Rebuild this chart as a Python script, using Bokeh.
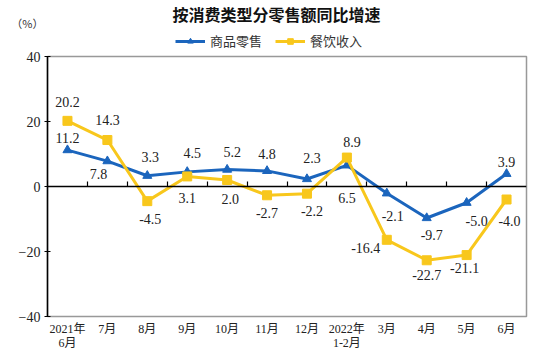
from bokeh.plotting import figure
from bokeh.layouts import column
from bokeh.models import (ColumnDataSource, Range1d, FixedTicker, LinearAxis,
                          Label, Legend, LegendItem)
from bokeh.core.properties import value
from bokeh.embed import file_html
from bokeh.resources import INLINE

# ---- data ----
categories = ["2021年\n6月", "7月", "8月", "9月", "10月", "11月", "12月",
              "2022年\n1-2月", "3月", "4月", "5月", "6月"]
goods = [11.2, 7.8, 3.3, 4.5, 5.2, 4.8, 2.3, 6.5, -2.1, -9.7, -5.0, 3.9]
catering = [20.2, 14.3, -4.5, 3.1, 2.0, -2.7, -2.2, 8.9, -16.4, -22.7, -21.1, -4.0]
y_ticks = [-40, -20, 0, 20, 40]
series_names = ["商品零售", "餐饮收入"]
chart_title = "按消费类型分零售额同比增速"
unit_text = "（%）"

# ---- label placement (pixels) ----
goods_dx = [0, -9, 3, 5, 5, 0, 5, 0, 6, 5, 10, 0]
goods_dy = [-12, 13, -19, -19, -18, -17, -21, 33, 23, 17, 18, -12]
cat_dx = [0, 0, 3, 0, 3, 0, 5, 5, -21, 0, -2, 3]
cat_dy = [-19, -20, 18, 22, 19, 18, 17, -16, 8, 15, 13, 21]

BLUE = "#1b65bd"
YELLOW = "#f8c71c"
SERIF = "'Liberation Serif', 'Noto Sans CJK SC', serif"
CJK = "'Noto Sans CJK SC', sans-serif"

W, HEAD_H, TOTAL_H = 558, 50, 353
LEFT, RIGHT = 47, 32
UNIT_Y = 22

xs = [i + 0.5 for i in range(len(categories))]
separators = list(range(1, len(categories)))

src = ColumnDataSource(dict(
    x=xs, goods=goods, catering=catering,
    gl=[f"{v:.1f}" for v in goods], cl=[f"{v:.1f}" for v in catering],
    gdx=goods_dx, gdy=goods_dy, cdx=cat_dx, cdy=cat_dy,
))

# ---------------- header (title, unit, legend) ----------------
# header frame shares the main frame's horizontal extent; ranges = page pixels
h = figure(width=W, height=HEAD_H, output_backend="svg", toolbar_location=None,
           x_range=Range1d(LEFT, W - RIGHT), y_range=Range1d(HEAD_H, 0),
           min_border=0, min_border_left=LEFT, min_border_right=RIGHT,
           x_axis_location=None, y_axis_location="left")
h.outline_line_color = None
h.grid.visible = False
h.background_fill_color = "white"
h.border_fill_color = "white"

# unit text shown as the header's only y tick label, left of the frame
hy = h.yaxis[0]
hy.ticker = FixedTicker(ticks=[UNIT_Y])
hy.major_label_overrides = {UNIT_Y: unit_text}
hy.axis_line_color = None
hy.major_tick_line_color = None
hy.minor_tick_line_color = None
hy.major_tick_in = 0
hy.major_tick_out = 0
hy.major_label_standoff = 4
hy.major_label_text_font = CJK
hy.major_label_text_font_size = "11px"
hy.major_label_text_color = "#333333"

h.add_layout(Label(x=276, y=13, text=chart_title, text_align="center",
                   text_baseline="middle", text_font=CJK, text_font_size="16px",
                   text_font_style="bold", text_color="#111111"))

nan = [float("nan")]
hl1 = h.line(nan, nan, line_color=BLUE, line_width=3)
hm1 = h.scatter(nan, nan, marker="triangle", size=8, fill_color=BLUE, line_color=BLUE)
hl2 = h.line(nan, nan, line_color=YELLOW, line_width=3)
hm2 = h.scatter(nan, nan, marker="square", size=8, fill_color=YELLOW, line_color=YELLOW)
legend = Legend(items=[LegendItem(label=series_names[0], renderers=[hl1, hm1]),
                       LegendItem(label=series_names[1], renderers=[hl2, hm2])],
                orientation="horizontal", location=(175 - LEFT, 0),
                padding=0, margin=0, spacing=13, label_standoff=5,
                glyph_width=30, glyph_height=14, label_height=14,
                label_text_font=CJK, label_text_font_size="13px",
                label_text_color="#333333", label_text_baseline="middle",
                background_fill_alpha=0, border_line_color=None)
h.add_layout(legend, "center")

# ---------------- main chart ----------------
p = figure(width=W, height=TOTAL_H - HEAD_H, output_backend="svg",
           toolbar_location=None,
           x_range=Range1d(0, len(categories)), y_range=Range1d(-40, 40),
           min_border_left=LEFT, min_border_right=RIGHT, min_border_top=6,
           min_border_bottom=37)
p.background_fill_color = "white"
p.border_fill_color = "white"
p.outline_line_color = "#999999"
p.outline_line_width = 1.5
p.grid.visible = False

ya = p.yaxis[0]
ya.ticker = FixedTicker(ticks=y_ticks)
ya.axis_line_color = "black"
ya.axis_line_width = 1.5
ya.major_tick_in = 3
ya.major_tick_out = 3
ya.major_tick_line_color = "black"
ya.minor_tick_line_color = None
ya.major_label_text_font = SERIF
ya.major_label_text_font_size = "14px"
ya.major_label_text_color = "#222222"
ya.major_label_standoff = 4

xa = p.xaxis[0]
xa.ticker = FixedTicker(ticks=xs)
xa.major_label_overrides = {x: c for x, c in zip(xs, categories)}
xa.axis_line_color = None
xa.major_tick_line_color = None
xa.major_tick_out = 0
xa.major_tick_in = 0
xa.minor_tick_line_color = None
xa.major_label_text_font = SERIF
xa.major_label_text_font_size = "12px"
xa.major_label_text_line_height = 1.0
xa.major_label_text_color = "#222222"
xa.major_label_standoff = 5

zero_axis = LinearAxis(fixed_location=0,
                       ticker=FixedTicker(ticks=separators),
                       major_label_overrides={s: "" for s in separators},
                       axis_line_color="black", axis_line_width=1.5,
                       major_tick_out=5, major_tick_in=0,
                       major_tick_line_color="black", major_tick_line_width=1.2,
                       minor_tick_line_color=None,
                       major_label_text_font_size="1px", major_label_standoff=0)
p.add_layout(zero_axis, "above")

p.line("x", "goods", source=src, line_color=BLUE, line_width=3)
p.scatter("x", "goods", source=src, marker="triangle", size=9,
          fill_color=BLUE, line_color=BLUE)
p.line("x", "catering", source=src, line_color=YELLOW, line_width=3)
p.scatter("x", "catering", source=src, marker="square", size=9,
          fill_color=YELLOW, line_color=YELLOW)

p.text("x", "goods", text="gl", source=src, x_offset="gdx", y_offset="gdy",
       text_align="center", text_baseline="middle",
       text_font=value("Liberation Serif"), text_font_size="14px",
       text_color="#222222")
p.text("x", "catering", text="cl", source=src, x_offset="cdx", y_offset="cdy",
       text_align="center", text_baseline="middle",
       text_font=value("Liberation Serif"), text_font_size="14px",
       text_color="#222222")

layout = column(h, p, spacing=0)
open("out.html", "w").write(file_html(layout, INLINE))
